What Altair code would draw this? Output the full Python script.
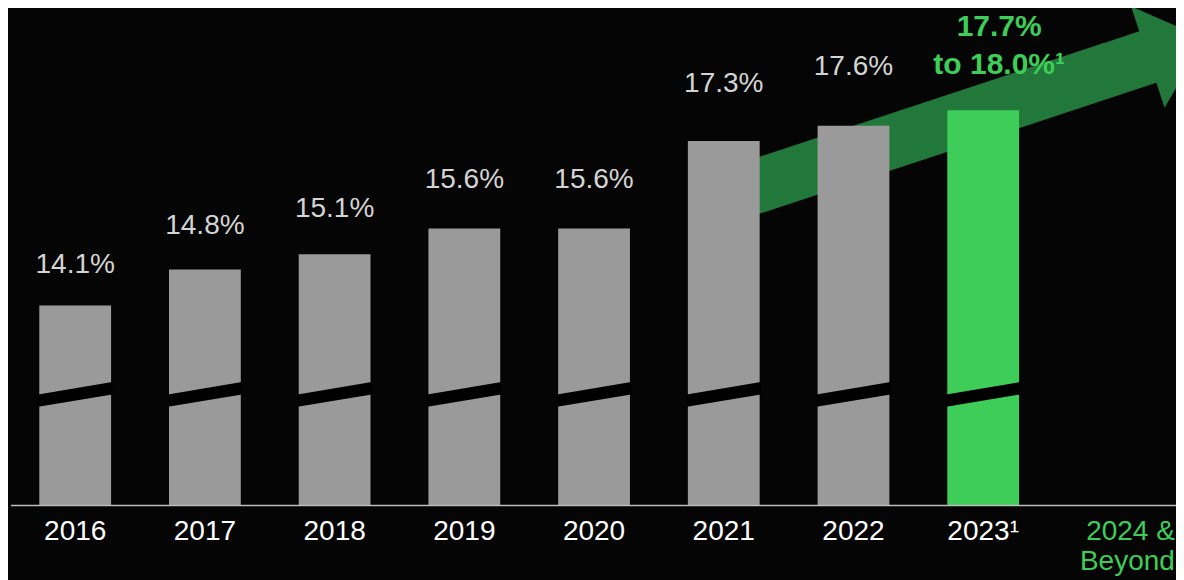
import altair as alt
import pandas as pd

# ---------------- data ----------------
CATEGORIES = ["2016", "2017", "2018", "2019", "2020", "2021", "2022", "2023", "2024 & Beyond"]
ACTUAL_YEARS = ["2016", "2017", "2018", "2019", "2020", "2021", "2022"]
ACTUAL_VALUES = [14.1, 14.8, 15.1, 15.6, 15.6, 17.3, 17.6]
TARGET_YEAR = "2023"
TARGET_VALUE = 17.9
GUIDANCE_LOW = 17.7
GUIDANCE_HIGH = 18.0
TICK_YEARS = ["2016", "2017", "2018", "2019", "2020", "2021", "2022", "2023"]
TICK_LABELS = ["2016", "2017", "2018", "2019", "2020", "2021", "2022", "2023\u00b9"]
FUTURE_CATEGORY = "2024 & Beyond"
FUTURE_LABEL = "2024 &\nBeyond"
ARROW_CATS = ["2021", "2024 & Beyond"]
ARROW_VALUES = [16.21, 18.71]
BASE = 10.21          # value at the (broken) baseline
BREAK_LEVEL = 12.37   # where the axis-break slash crosses the bars

# ---------------- style ----------------
BG = "#040504"
GRAY = "#9a9a9a"
GREEN = "#3dcd58"
ARROW = "#22783a"
FONT = "Liberation Sans"
W, H = 1168, 572

x_scale = alt.Scale(domain=CATEGORIES, paddingInner=0.4465, paddingOuter=0.2255,
                    align=0.535, round=False)
bar_y = alt.Scale(domain=[8.76, 19.889], nice=False, zero=False)
lab_y = alt.Scale(domain=[8.685, 18.780], nice=False, zero=False)

def X():
    return alt.X("category:N", scale=x_scale, axis=None, sort=CATEGORIES)

bars_df = pd.DataFrame({
    "category": ACTUAL_YEARS + [TARGET_YEAR],
    "value": ACTUAL_VALUES + [TARGET_VALUE],
    "kind": ["actual"] * len(ACTUAL_YEARS) + ["target"],
})
labels_df = pd.DataFrame({
    "category": ACTUAL_YEARS,
    "value": ACTUAL_VALUES,
    "label": [f"{v:.1f}%" for v in ACTUAL_VALUES],
})
breaks_df = pd.DataFrame({"category": ACTUAL_YEARS + [TARGET_YEAR],
                          "level": [BREAK_LEVEL] * (len(ACTUAL_YEARS) + 1)})
ticks_df = pd.DataFrame({"category": TICK_YEARS, "label": TICK_LABELS})
future_df = pd.DataFrame({"category": [FUTURE_CATEGORY], "label": [FUTURE_LABEL]})
arrow_df = pd.DataFrame({"category": ARROW_CATS, "value": ARROW_VALUES, "o": [0, 1]})
head_df = arrow_df.iloc[[1]]
guide_df = pd.DataFrame({
    "category": [TARGET_YEAR],
    "value": [GUIDANCE_LOW],
    "label": [f"{GUIDANCE_LOW:.1f}%\nto {GUIDANCE_HIGH:.1f}%\u00b9"],
})
base_df = pd.DataFrame({"v": [BASE]})

BREAK_PATH = "M -1 0 L 1 -0.334 L 1 0 L -1 0.334 Z"
HEAD_PATH = ("M -0.05 -0.542 L 0.736 -0.542 L 0.736 -1.068 L 1.93 0 "
             "L 0.736 1.068 L 0.736 0.542 L -0.05 0.542 Z")

arrow_line = alt.Chart(arrow_df).mark_line(
    color=ARROW, strokeWidth=54.2, strokeCap="butt"
).encode(x=X(), y=alt.Y("value:Q", scale=bar_y, axis=None), order="o:Q")

arrow_head = alt.Chart(head_df).mark_point(
    shape=HEAD_PATH, size=10000, angle=341.7, filled=True, color=ARROW,
    opacity=1, strokeWidth=0
).encode(x=X(), y=alt.Y("value:Q", scale=bar_y, axis=None))

bars = alt.Chart(bars_df).mark_bar().encode(
    x=X(),
    y=alt.Y("value:Q", scale=bar_y, axis=None),
    y2=alt.datum(BASE),
    color=alt.Color("kind:N", scale=alt.Scale(domain=["actual", "target"], range=[GRAY, GREEN]),
                    legend=None),
)

breaks = alt.Chart(breaks_df).mark_point(
    shape=BREAK_PATH, size=5476, filled=True, color="black", opacity=1, strokeWidth=0
).encode(x=X(), y=alt.Y("level:Q", scale=bar_y, axis=None))

baseline = alt.Chart(base_df).mark_rule(color="#bdbdbd", strokeWidth=1.5).encode(
    y=alt.Y("v:Q", scale=bar_y, axis=None), x=alt.value(3), x2=alt.value(1168)
)

values = alt.Chart(labels_df).mark_text(
    font=FONT, fontSize=28, color="#d4d4d4", baseline="alphabetic", align="center"
).encode(x=X(), y=alt.Y("value:Q", scale=lab_y, axis=None), text="label:N")

years = alt.Chart(ticks_df).mark_text(
    font=FONT, fontSize=28, color="white", baseline="alphabetic", align="center"
).encode(x=X(), y=alt.value(532), text="label:N")

future = alt.Chart(future_df).mark_text(
    font=FONT, fontSize=28, color=GREEN, baseline="alphabetic", align="right",
    dx=62, lineBreak="\n", lineHeight=30
).encode(x=X(), y=alt.value(532), text="label:N")

guide = alt.Chart(guide_df).mark_text(
    font=FONT, fontSize=30, fontWeight="bold", color=GREEN, baseline="alphabetic",
    align="center", dx=16, dy=-33, lineBreak="\n", lineHeight=38
).encode(x=X(), y=alt.Y("value:Q", scale=lab_y, axis=None), text="label:N")

chart = alt.layer(
    arrow_line, arrow_head, bars, breaks, baseline, values, years, future, guide
).resolve_scale(y="independent").properties(
    width=W, height=H,
    padding=0,
    autosize=alt.AutoSizeParams(type="none"),
    background=BG,
).configure_view(stroke=None)

chart.save("out.html", embed_options={"renderer": "svg", "actions": False})
